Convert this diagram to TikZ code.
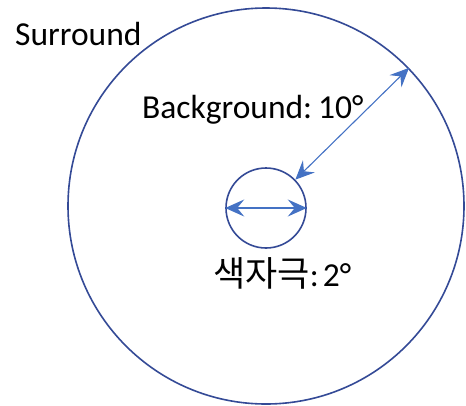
\documentclass[tikz,border=0pt]{standalone}
\usepackage{fontspec}
\setmainfont{Carlito}
\newfontfamily\kr{Noto Sans CJK KR}
\usetikzlibrary{arrows.meta}
\definecolor{ringblue}{RGB}{52,74,150}
\definecolor{arrowblue}{RGB}{68,114,196}
\tikzset{
  ring/.style={circle, draw=ringblue, line width=1.6pt, inner sep=0pt},
  dimarrow/.style={draw=arrowblue, line width=1.1pt,
    {Stealth[length=19pt,width=17pt,inset=7pt]}-{Stealth[length=19pt,width=17pt,inset=7pt]}},
  lbl/.style={inner sep=0pt, anchor=base west, font=\fontsize{33.5}{38}\selectfont}
}
\begin{document}
\begin{tikzpicture}[x=1pt,y=-1pt]
\useasboundingbox (0,0) rectangle (466,405);
\node[ring, minimum size=396pt] (outer) at (266,206) {};
\node[ring, minimum size=80pt] (inner) at (266,208) {};
\draw[dimarrow] (inner.west) -- (inner.east);
\draw[dimarrow] (inner.44) -- (outer.44);
\node[lbl] (surround) at (15,45) {Surround};
\node[lbl] (bg) at (142,118) {Background:\hspace{0.18em}10°};
\node[lbl] (stim) at (213,286) {{\kr\fontsize{35}{40}\selectfont 색자극}:\hspace{0.12em}2°};
\end{tikzpicture}
\end{document}
